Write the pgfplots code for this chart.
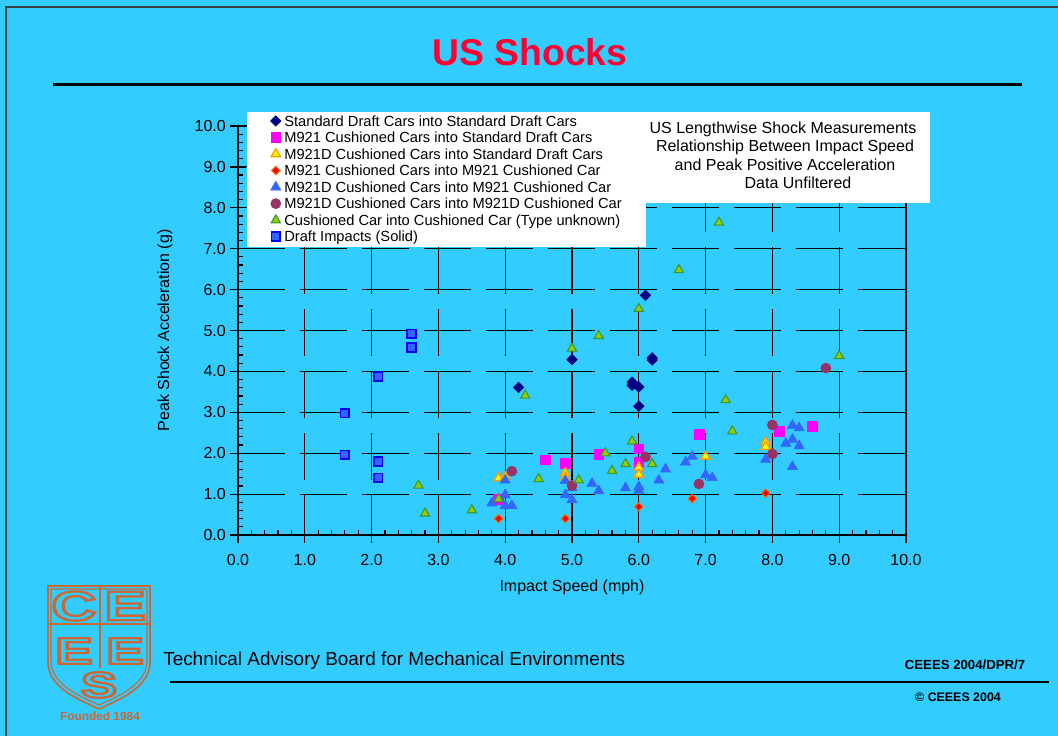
\documentclass[border=0pt]{standalone}
\usepackage{pgfplots}
\pgfplotsset{compat=1.18}
\usepackage{fontspec}
\setmainfont{Liberation Sans}
\definecolor{bg}{HTML}{33CCFF}
\definecolor{ttl}{HTML}{FF0033}
\definecolor{navyc}{HTML}{000080}
\definecolor{magc}{HTML}{FF00FF}
\definecolor{yelf}{HTML}{FFFF00}
\definecolor{yeld}{HTML}{FF9900}
\definecolor{redf}{HTML}{FF0000}
\definecolor{redd}{HTML}{FF6600}
\definecolor{bluet}{HTML}{3366FF}
\definecolor{maroonc}{HTML}{993366}
\definecolor{grnf}{HTML}{99CC00}
\definecolor{grnd}{HTML}{339933}
\definecolor{sqf}{HTML}{3366FF}
\definecolor{sqd}{HTML}{0000FF}
\definecolor{logoc}{HTML}{CC6633}
\newcommand\outl[3]{%
  \node[text=logoc, font=#2, xscale=1.5] at (#1) {\special{pdf:literal direct 1.7 w 1 Tr}#3\special{pdf:literal direct 0 Tr}};}
\begin{document}
\begin{tikzpicture}
\begin{scope}[x=0.75pt,y=-0.75pt]
\fill[bg] (0,0) rectangle (1058,736);
\useasboundingbox (0,0) rectangle (1058,736);
\draw[line width=1.5pt, black!75] (6,736) -- (6,7) -- (1058,7);
\node[anchor=base, text=ttl, font=\fontsize{28}{32}\selectfont\bfseries] at (530,65) {US Shocks};
\draw[line width=2.25pt] (53,84) -- (1022,84);
\end{scope}

\begin{axis}[
  at={(178.5pt,-401.25pt)}, anchor=south west,
  scale only axis, width=501pt, height=306.75pt,
  xmin=0, xmax=10, ymin=0, ymax=10,
  xtick={0,...,10}, ytick={0,...,10},
  xticklabels={0.0,1.0,2.0,3.0,4.0,5.0,6.0,7.0,8.0,9.0,10.0},
  yticklabels={0.0,1.0,2.0,3.0,4.0,5.0,6.0,7.0,8.0,9.0,10.0},
  minor x tick num=4, minor y tick num=4,
  xtick pos=bottom, ytick pos=left,
  tick align=center,
  major tick length=11.25pt, minor tick length=3.75pt,
  every tick/.style={black, line width=0.9pt},
  minor x tick style={yshift=1.875pt},
  minor y tick style={xshift=1.875pt},
  grid=major,
  major grid style={black, line width=0.8pt, dash pattern=on 35.25pt off 11.25pt},
  major x grid style={dash phase=5.25pt},
  axis line style={line width=1.6pt},
  tick label style={font=\fontsize{12}{14}\selectfont},
  xticklabel style={yshift=-5pt},
  xlabel={Impact Speed (mph)}, ylabel={Peak Shock Acceleration (g)},
  label style={font=\fontsize{12}{14}\selectfont},
  xlabel style={at={(axis description cs:0.5,-0.129)}, anchor=center},
  ylabel style={at={(axis description cs:-0.1093,0.5)}, anchor=center},
  clip=false,
  legend image code/.code={\path (-5pt,1.2pt) (5pt,1.2pt); \draw[#1] plot coordinates {(0pt,1.2pt)};},
  legend cell align=left,
  legend style={at={(rel axis cs:0.0458,1.0293)}, anchor=north west, draw=none, fill=none,
    inner xsep=0pt, inner ysep=0pt, row sep=0pt,
    font=\fontsize{11}{13}\selectfont,
    nodes={inner xsep=1.2pt, inner ysep=0pt, text height=8.9pt, text depth=3.5pt}},
]
\fill[white] (rel axis cs:0.01347,0.7042) rectangle (rel axis cs:0.6108,1.0342);
\fill[white] (rel axis cs:0.6108,0.8117) rectangle (rel axis cs:1.0359,1.0342);

\addplot[only marks, mark=square*, mark size=2.8pt, mark options={rotate=45, fill=navyc, draw=navyc}]
 coordinates {(4.2,3.61) (5.0,4.29) (5.9,3.74) (5.9,3.66) (6.0,3.62) (6.0,3.15) (6.1,5.86) (6.2,4.33) (6.2,4.28)};
\addplot[only marks, mark=square*, mark size=3.7pt, mark options={fill=magc, draw=magc}]
 coordinates {(3.9,0.87) (4.6,1.84) (4.9,1.75) (5.4,1.97) (6.0,2.11) (6.0,1.78) (6.9,2.46) (8.1,2.54) (8.6,2.66)};
\addplot[only marks, mark=triangle*, mark size=4pt, mark options={fill=yelf, draw=yeld, line width=1pt}]
 coordinates {(3.9,1.39) (4.0,1.42) (4.9,1.52) (4.9,1.41) (6.0,1.65) (6.0,1.48) (7.0,1.92) (7.9,2.27) (7.9,2.16)};
\addplot[only marks, mark=square*, mark size=2.2pt, mark options={rotate=45, fill=redf, draw=redd, line width=0.8pt}]
 coordinates {(3.9,0.40) (4.9,0.40) (6.0,0.69) (6.8,0.89) (7.9,1.02)};
\addplot[only marks, mark=triangle*, mark size=4.4pt, mark options={fill=bluet, draw=bluet}]
 coordinates {(3.8,0.78) (4.0,1.34) (4.0,0.98) (4.0,0.72) (4.1,0.72) (4.9,0.98) (4.9,1.33) (5.0,0.86) (5.0,1.15) (5.3,1.26) (5.4,1.08) (5.8,1.15) (6.0,1.18) (6.0,1.09) (6.3,1.34) (6.4,1.61) (6.7,1.78) (6.8,1.92) (7.0,1.47) (7.1,1.40) (7.9,1.85) (8.2,2.24) (8.3,2.68) (8.4,2.62) (8.3,2.34) (8.4,2.18) (8.3,1.67)};
\addplot[only marks, mark=*, mark size=3.8pt, mark options={fill=maroonc, draw=maroonc}]
 coordinates {(4.1,1.56) (5.0,1.21) (6.1,1.91) (6.9,1.25) (8.0,2.69) (8.0,1.98) (8.8,4.08)};
\addplot[only marks, mark=triangle*, mark size=4pt, mark options={fill=grnf, draw=grnd, line width=0.8pt}]
 coordinates {(2.7,1.21) (2.8,0.53) (3.5,0.61) (3.9,0.88) (4.3,3.41) (4.5,1.37) (5.0,4.56) (5.1,1.34) (5.4,4.87) (5.5,2.00) (5.6,1.57) (5.8,1.74) (5.9,2.29) (6.0,5.53) (6.2,1.74) (6.6,6.48) (7.2,7.64) (7.3,3.30) (7.4,2.54) (9.0,4.38)};
\addplot[only marks, mark=square*, mark size=3.3pt, mark options={fill=sqf, draw=sqd, line width=1.2pt}]
 coordinates {(1.6,2.98) (1.6,1.96) (2.1,3.88) (2.1,1.80) (2.1,1.40) (2.6,4.92) (2.6,4.58)};
\legend{Standard Draft Cars into Standard Draft Cars,
M921 Cushioned Cars into Standard Draft Cars,
M921D Cushioned Cars into Standard Draft Cars,
M921 Cushioned Cars into M921 Cushioned Car,
M921D Cushioned Cars into M921 Cushioned Car,
M921D Cushioned Cars into M921D Cushioned Car,
Cushioned Car into Cushioned Car (Type unknown),
Draft Impacts (Solid)}
\end{axis}

\begin{scope}[x=0.75pt,y=-0.75pt]
\node[anchor=base, font=\fontsize{12}{14}\selectfont] at (783,133.5) {US Lengthwise Shock Measurements};
\node[anchor=base, font=\fontsize{12}{14}\selectfont] at (785,151.8) {Relationship Between Impact Speed};
\node[anchor=base, font=\fontsize{12}{14}\selectfont] at (785,170.1) {and Peak Positive Acceleration};
\node[anchor=base, font=\fontsize{12}{14}\selectfont] at (798,188.4) {Data Unfiltered};
% footer
\node[anchor=base west, inner sep=0pt, font=\fontsize{14.2}{16}\selectfont] at (163,665) {Technical Advisory Board for Mechanical Environments};
\node[anchor=base east, inner sep=0pt, font=\fontsize{9.9}{12}\selectfont\bfseries] at (1025.5,669) {CEEES 2004/DPR/7};
\draw[line width=1.9pt] (170,682) -- (1049,682);
\node[anchor=base, inner sep=0pt, font=\fontsize{9.3}{11}\selectfont\bfseries] at (958,701) {\textcopyright{} CEEES 2004};
% logo
\draw[logoc, line width=1.2pt] (48,586) -- (150,586) -- (150,662) .. controls (150,688) and (118,700) .. (99,709) .. controls (80,700) and (48,688) .. (48,662) -- cycle;
\draw[logoc, line width=0.8pt] (51,589) -- (147,589) -- (147,661) .. controls (147,685) and (116,697) .. (99,705) .. controls (82,697) and (51,685) .. (51,661) -- cycle;
\draw[logoc, line width=1pt] (48,624) -- (150,624);
\draw[logoc, line width=1pt] (100,586) -- (100,668);
\outl{74,606}{\fontsize{31}{33}\selectfont\bfseries}{C}
\outl{125,606}{\fontsize{31}{33}\selectfont\bfseries}{E}
\outl{74,651}{\fontsize{28}{30}\selectfont\bfseries}{E}
\outl{125,651}{\fontsize{28}{30}\selectfont\bfseries}{E}
\outl{99,685}{\fontsize{27}{29}\selectfont\bfseries}{S}
\node[anchor=base, inner sep=0pt, text=logoc, font=\fontsize{8.9}{10}\selectfont\bfseries] at (100,720) {Founded 1984};
\end{scope}
\end{tikzpicture}
\end{document}
